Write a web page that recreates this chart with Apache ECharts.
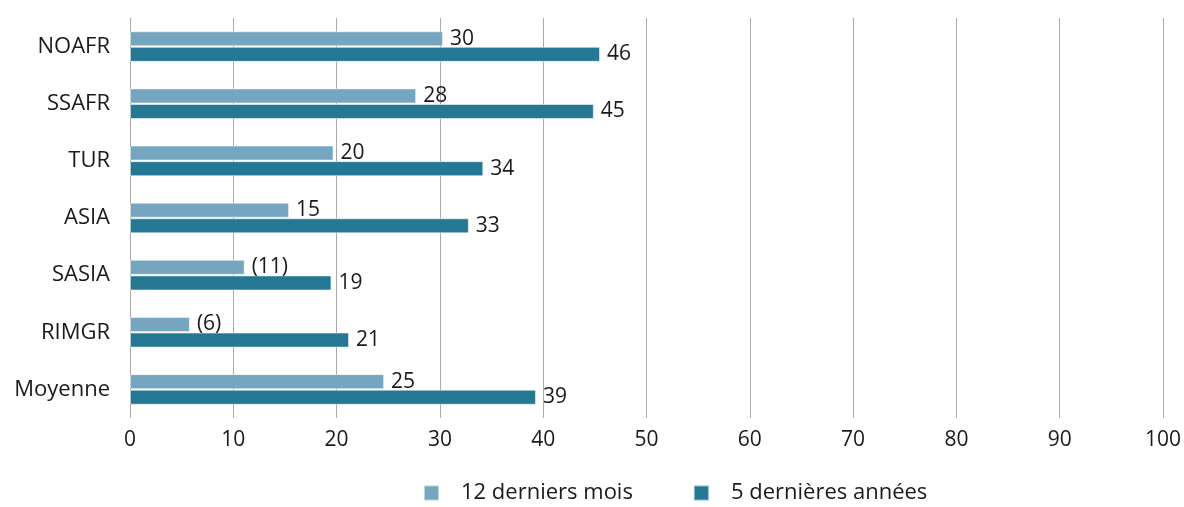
<!DOCTYPE html>
<html lang="fr">
<head>
    <meta charset="UTF-8">
    <title>Bar chart</title>
    <script src="https://cdn.jsdelivr.net/npm/echarts@6/dist/echarts.min.js"></script>
</head>
<body style="margin:0">

<div id="main" style="width:1184px;height:507px;"></div>

<script type="text/javascript">
    var categories = ['NOAFR', 'SSAFR', 'TUR', 'ASIA', 'SASIA', 'RIMGR', 'Moyenne'];
    var recentValues = [30.3, 27.7, 19.7, 15.4, 11.1, 5.8, 24.6];
    var recentLabels = ['30', '28', '20', '15', '(11)', '(6)', '25'];
    var longValues = [45.5, 44.9, 34.2, 32.8, 19.5, 21.2, 39.3];
    var longLabels = ['46', '45', '34', '33', '19', '21', '39'];
    var seriesNames = ['12 derniers mois', '5 dernières années'];

    var myChart = echarts.init(document.getElementById('main'));
    var font = 'Open Sans';

    function makeSeries(name, values, labels, color) {
        return {
            name: name,
            type: 'bar',
            data: values,
            barWidth: 15,
            barGap: '4%',
            itemStyle: {color: color, borderColor: 'rgba(255,255,255,0.5)', borderWidth: 1},
            label: {
                show: true,
                position: 'right',
                distance: 7,
                fontFamily: font,
                fontSize: 21,
                color: '#1a1a1a',
                formatter: function (p) {
                    return labels[p.dataIndex];
                }
            },
            silent: true
        };
    }

    var option = {
        animation: false,
        grid: {left: 130, right: 21, top: 18, bottom: 89},
        legend: {
            top: 477,
            left: 418,
            itemWidth: 15,
            itemHeight: 15,
            itemGap: 60,
            icon: 'rect',
            textStyle: {fontFamily: font, fontSize: 22, color: '#1a1a1a', padding: [0, 0, 0, 17]},
            data: seriesNames
        },
        xAxis: {
            type: 'value',
            min: 0,
            max: 100,
            interval: 10,
            axisLine: {show: false},
            axisTick: {show: false},
            axisLabel: {fontFamily: font, fontSize: 21, color: '#1a1a1a', margin: 12},
            splitLine: {lineStyle: {color: '#aaaaaa', width: 1}}
        },
        yAxis: {
            type: 'category',
            inverse: true,
            data: categories,
            axisLine: {show: false},
            axisTick: {show: false},
            axisLabel: {fontFamily: font, fontSize: 22, color: '#1a1a1a', margin: 20}
        },
        series: [
            makeSeries(seriesNames[0], recentValues, recentLabels, '#76a6bf'),
            makeSeries(seriesNames[1], longValues, longLabels, '#247893')
        ]
    };

    myChart.setOption(option);
</script>
</body>
</html>
